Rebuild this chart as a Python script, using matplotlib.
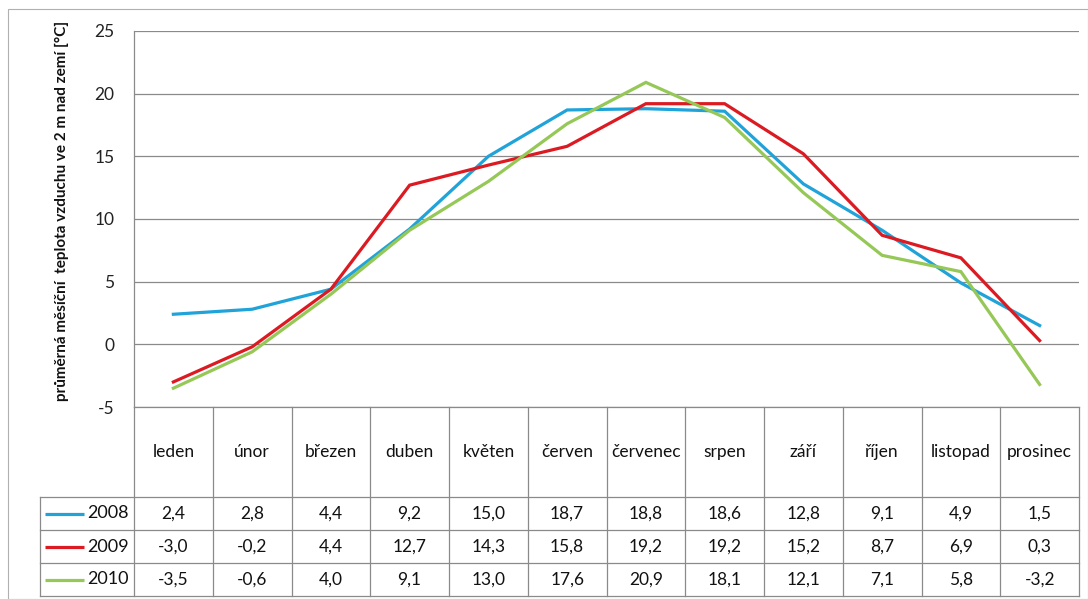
import matplotlib
matplotlib.use("Agg")
import matplotlib.pyplot as plt
from matplotlib.patches import Rectangle

plt.rcParams['font.family'] = ['Lato', 'DejaVu Sans']

# průměrné měsíční teploty [°C]
mesice = ['leden', 'únor', 'březen', 'duben', 'květen', 'červen',
          'červenec', 'srpen', 'září', 'říjen', 'listopad', 'prosinec']
roky = ['2008', '2009', '2010']
t2008 = [2.4, 2.8, 4.4, 9.2, 15.0, 18.7, 18.8, 18.6, 12.8, 9.1, 4.9, 1.5]
t2009 = [-3.0, -0.2, 4.4, 12.7, 14.3, 15.8, 19.2, 19.2, 15.2, 8.7, 6.9, 0.3]
t2010 = [-3.5, -0.6, 4.0, 9.1, 13.0, 17.6, 20.9, 18.1, 12.1, 7.1, 5.8, -3.2]
barvy = ['#1fa3d9', '#dc1a22', '#95c857']
yticks = [-5, 0, 5, 10, 15, 20, 25]

W, H = 1088, 599
GRID = '#8a8a8a'


def box(x0, y0, x1, y1):
    # pixel box -> figure fraction [left, bottom, width, height]
    return [x0 / W, 1 - y1 / H, (x1 - x0) / W, (y1 - y0) / H]


fig = plt.figure(figsize=(W / 100, H / 100), dpi=100)

# vnější rámeček grafu
fig.patches.append(Rectangle((8 / W, 0.5 / H), (W - 8) / W, (H - 9.5) / H,
                             transform=fig.transFigure, fill=False,
                             edgecolor='#b0b0b0', lw=0.8))

ax = fig.add_axes(box(134, 31, 1079, 407))
ax.set_xlim(-0.5, 11.5)
ax.set_ylim(-5, 25)
ax.set_yticks(yticks)
ax.set_yticklabels([str(v) for v in yticks], fontsize=12.5, color='#222222')
ax.set_xticks([])
ax.tick_params(axis='y', length=0, pad=14)
for s in ['top', 'right', 'bottom']:
    ax.spines[s].set_visible(False)
ax.spines['left'].set_color(GRID)
ax.spines['left'].set_linewidth(0.9)
ax.grid(axis='y', color=GRID, lw=0.9)
ax.set_axisbelow(True)

x = list(range(len(mesice)))
for rada, c in zip([t2008, t2009, t2010], barvy):
    ax.plot(x, rada, color=c, lw=2.3, solid_joinstyle='miter')

fig.text(62 / W, 1 - 211 / H,
         'průměrná měsíční  teplota vzduchu ve 2 m nad zemí [°C]',
         rotation=90, ha='center', va='center', fontsize=11,
         fontweight='bold', color='#111111')

# datová tabulka pod grafem
tab = fig.add_axes(box(134, 407, 1079, 597))
tab.set_xlim(-0.5, 11.5)
tab.set_ylim(190, 0)
tab.axis('off')

col_w = (1079 - 134) / 12.0
x_leg = -0.5 - 94 / col_w
hlav = 90
radek = 33
lk = dict(color=GRID, lw=0.9, clip_on=False)

for i in range(13):
    tab.plot([i - 0.5, i - 0.5], [0, hlav + 3 * radek], **lk)
tab.plot([x_leg, x_leg], [hlav, hlav + 3 * radek], **lk)
tab.plot([-0.5, 11.5], [0, 0], **lk)
for r in range(4):
    yy = hlav + r * radek
    tab.plot([x_leg, 11.5], [yy, yy], **lk)

for i, m in enumerate(mesice):
    tab.text(i, hlav / 2, m, ha='center', va='center', fontsize=12.5,
             color='#111111')

for r, (rok, rada, c) in enumerate(zip(roky, [t2008, t2009, t2010], barvy)):
    yc = hlav + radek * r + radek / 2
    tab.plot([x_leg + 5 / col_w, x_leg + 44 / col_w], [yc, yc], color=c,
             lw=2.3, clip_on=False, solid_capstyle='butt')
    tab.text(-0.5 - 5 / col_w, yc, rok, ha='right', va='center',
             fontsize=13, color='#111111')
    for i, v in enumerate(rada):
        tab.text(i, yc, f'{v:.1f}'.replace('.', ','), ha='center',
                 va='center', fontsize=12.5, color='#111111')

fig.savefig('out.png', dpi=100, facecolor='white')
